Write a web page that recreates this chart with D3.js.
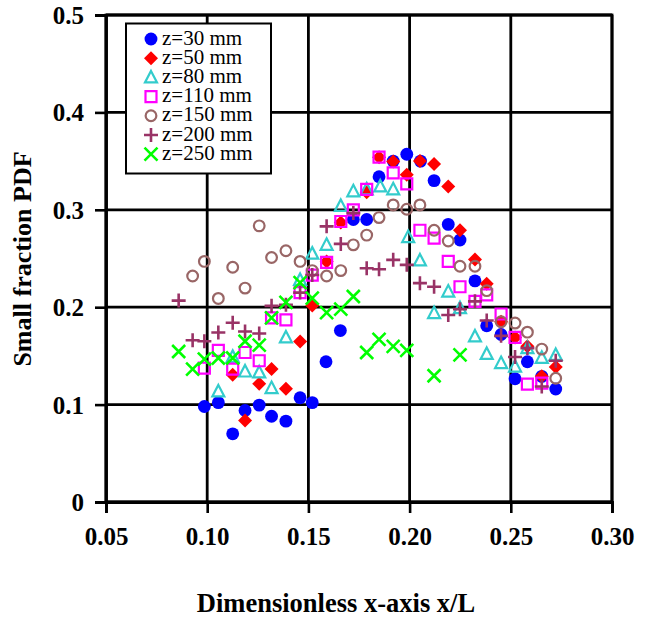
<!DOCTYPE html>
<html><head><meta charset="utf-8">
<script src="https://cdn.jsdelivr.net/npm/d3@7"></script>
<style>body{margin:0;background:#fff}svg{display:block}
svg text{font-family:"Liberation Serif","Times New Roman",Tinos,"DejaVu Serif",serif;}</style>
</head><body>
<svg id="c" width="653" height="621"></svg>
<script>
const seriesNames = ["z=30 mm","z=50 mm","z=80 mm","z=110 mm","z=150 mm","z=200 mm","z=250 mm"];
const xTicks = [0.05,0.10,0.15,0.20,0.25,0.30];
const yTicks = [0,0.1,0.2,0.3,0.4,0.5];

const z30 = [[0.0986,0.098],[0.1055,0.102],[0.1126,0.070],[0.1187,0.094],[0.1257,0.0995],[0.1318,0.088],[0.1389,0.083],[0.1459,0.107],[0.1519,0.102],[0.1587,0.144],[0.1658,0.176],[0.1722,0.290],[0.1788,0.290],[0.1849,0.334],[0.1919,0.350],[0.1986,0.357],[0.2054,0.350],[0.2121,0.330],[0.2191,0.285],[0.2249,0.269],[0.2323,0.227],[0.2381,0.181],[0.2452,0.172],[0.2521,0.1265],[0.2582,0.144],[0.2653,0.129],[0.2722,0.116]];
const z50 = [[0.1126,0.1306],[0.1187,0.0837],[0.1257,0.1214],[0.1318,0.1365],[0.1389,0.1163],[0.1459,0.1648],[0.1519,0.2017],[0.159,0.2469],[0.166,0.2869],[0.1788,0.318],[0.1849,0.354],[0.1919,0.3495],[0.1986,0.336],[0.2051,0.350],[0.2121,0.347],[0.2191,0.324],[0.2249,0.279],[0.2323,0.249],[0.2381,0.224],[0.2452,0.185],[0.2521,0.169],[0.2582,0.160],[0.2653,0.129],[0.2722,0.1385]];
const z80 = [[0.1055,0.1135],[0.1126,0.149],[0.1187,0.134],[0.1257,0.133],[0.1318,0.117],[0.1389,0.169],[0.1459,0.228],[0.1519,0.255],[0.159,0.264],[0.166,0.304],[0.1722,0.319],[0.1788,0.321],[0.1855,0.324],[0.1919,0.321],[0.1993,0.272],[0.2051,0.248],[0.2121,0.194],[0.2191,0.216],[0.2249,0.199],[0.2323,0.170],[0.2381,0.152],[0.2452,0.1426],[0.2521,0.139],[0.2582,0.158],[0.2653,0.148],[0.2722,0.151]];
const z110 = [[0.0986,0.1375],[0.1055,0.1556],[0.1126,0.1365],[0.1187,0.1535],[0.1257,0.145],[0.1318,0.189],[0.1389,0.187],[0.1459,0.215],[0.1519,0.233],[0.159,0.246],[0.166,0.288],[0.1722,0.300],[0.1788,0.321],[0.1849,0.354],[0.1919,0.338],[0.1986,0.3266],[0.2051,0.279],[0.2121,0.271],[0.2191,0.247],[0.2249,0.221],[0.2323,0.206],[0.2381,0.2127],[0.2452,0.193],[0.2521,0.169],[0.2582,0.121],[0.2653,0.122]];
const z150 = [[0.0928,0.232],[0.0986,0.247],[0.1055,0.209],[0.1126,0.241],[0.1187,0.2196],[0.1257,0.2835],[0.1318,0.251],[0.1389,0.258],[0.1459,0.247],[0.1519,0.2376],[0.159,0.232],[0.166,0.2376],[0.1722,0.264],[0.1788,0.274],[0.1849,0.292],[0.1919,0.305],[0.1986,0.3006],[0.2051,0.305],[0.2121,0.279],[0.2191,0.268],[0.2249,0.242],[0.2323,0.242],[0.2381,0.217],[0.2452,0.185],[0.2521,0.1837],[0.2582,0.1744],[0.2653,0.157],[0.2722,0.127]];
const z200 = [[0.0859,0.2068],[0.0928,0.166],[0.0986,0.165],[0.1055,0.174],[0.1126,0.184],[0.1187,0.175],[0.1257,0.173],[0.1318,0.2014],[0.1389,0.2024],[0.1459,0.215],[0.1519,0.233],[0.159,0.283],[0.166,0.265],[0.1722,0.2966],[0.1788,0.240],[0.1849,0.239],[0.1919,0.2486],[0.1986,0.2435],[0.2051,0.2247],[0.2121,0.221],[0.2191,0.192],[0.2249,0.198],[0.2323,0.206],[0.2381,0.1863],[0.2452,0.1706],[0.2521,0.1488],[0.2582,0.158],[0.2653,0.1186],[0.2722,0.145]];
const z250 = [[0.0859,0.1545],[0.0928,0.1365],[0.0986,0.1467],[0.1055,0.1478],[0.1126,0.1478],[0.1187,0.165],[0.1257,0.161],[0.1318,0.189],[0.1389,0.205],[0.1459,0.2253],[0.1519,0.2093],[0.159,0.1945],[0.166,0.198],[0.1722,0.211],[0.1788,0.1535],[0.1849,0.167],[0.1919,0.1597],[0.1986,0.1556],[0.2121,0.1296],[0.2249,0.151]];

const allSeries = [z30,z50,z80,z110,z150,z200,z250];

const styles = [
  {type:"circle", color:"#0000ff", filled:true},
  {type:"diamond", color:"#ff0000", filled:true},
  {type:"triangle", color:"#33cccc", filled:false},
  {type:"square", color:"#ff00ff", filled:false},
  {type:"ocircle", color:"#996666", filled:false},
  {type:"plus", color:"#993366", filled:false},
  {type:"x", color:"#00ff00", filled:false}
];

function markerPath(t){
  switch(t){
    case "circle": return d3.symbol(d3.symbolCircle, 130)();
    case "ocircle": return d3.symbol(d3.symbolCircle, 90)();
    case "diamond": return "M0,-7L7,0L0,7L-7,0Z";
    case "triangle": return "M0,-6.5L6,5L-6,5Z";
    case "square": return "M-5.5,-5.5H5.5V5.5H-5.5Z";
    case "plus": return "M-7,0H7M0,-7V7";
    case "x": return "M-6.5,-6.5L6.5,6.5M6.5,-6.5L-6.5,6.5";
  }
}
function applyStyle(sel, st){
  if(st.filled){ sel.attr("fill", st.color).attr("stroke","none"); }
  else { sel.attr("fill","none").attr("stroke", st.color)
           .attr("stroke-width", (st.type==="plus"||st.type==="x")?2.6:2.2); }
}

const svg = d3.select("#c");
const L=106, R=612, T=15, B=502;
const x = d3.scaleLinear().domain([0.05,0.30]).range([L,R]);
const y = d3.scaleLinear().domain([0,0.5]).range([B,T]);

svg.append("g").selectAll("line").data(xTicks).join("line")
  .attr("x1",d=>x(d)).attr("x2",d=>x(d)).attr("y1",T).attr("y2",B)
  .attr("stroke","#000").attr("stroke-width",2.8);
svg.append("g").selectAll("line").data(yTicks).join("line")
  .attr("x1",L).attr("x2",R).attr("y1",d=>y(d)).attr("y2",d=>y(d))
  .attr("stroke","#000").attr("stroke-width",2.8);

const xAxis = d3.axisBottom(x).tickValues(xTicks).tickSize(11).tickPadding(14).tickFormat(d3.format(".2f"));
const yAxis = d3.axisLeft(y).tickValues(yTicks).tickSize(11).tickPadding(11).tickFormat(d=>d===0?"0":d3.format(".1f")(d));
const gx = svg.append("g").attr("transform",`translate(0,${B})`).call(xAxis);
const gy = svg.append("g").attr("transform",`translate(${L},0)`).call(yAxis);
[gx,gy].forEach(g=>{
  g.attr("font-family",null);
  g.select(".domain").attr("stroke","#000").attr("stroke-width",2.8);
  g.selectAll(".tick line").attr("stroke","#000").attr("stroke-width",2.6);
  g.selectAll("text").attr("font-weight","bold").attr("font-size",25).attr("fill","#000");
});
gy.selectAll("text").attr("dy","0.34em");

svg.append("rect").attr("x",L).attr("y",T).attr("width",R-L).attr("height",B-T)
  .attr("fill","none").attr("stroke","#000").attr("stroke-width",2.8);

allSeries.forEach((data,i)=>{
  const st = styles[i];
  const p = svg.append("g").selectAll("path").data(data).join("path")
    .attr("d", markerPath(st.type))
    .attr("transform", d=>`translate(${x(d[0])},${y(d[1])})`);
  applyStyle(p, st);
});

const lg = svg.append("g");
lg.append("rect").attr("x",126).attr("y",23.5).attr("width",145).attr("height",150)
  .attr("fill","#fff").attr("stroke","#000").attr("stroke-width",2);
seriesNames.forEach((name,i)=>{
  const cy = 39 + i*19.2;
  const m = lg.append("path").attr("d", markerPath(styles[i].type)).attr("transform",`translate(151,${cy})`);
  applyStyle(m, styles[i]);
  lg.append("text").attr("x",162).attr("y",cy+5.5).text(name)
    .attr("font-size",21).attr("fill","#000");
});

svg.append("text").attr("x",336).attr("y",612).attr("text-anchor","middle")
  .attr("font-weight","bold").attr("font-size",26.5)
  .text("Dimensionless x-axis x/L");
svg.append("text").attr("transform","translate(31,259) rotate(-90)").attr("text-anchor","middle")
  .attr("font-weight","bold").attr("font-size",26)
  .text("Small fraction PDF");
</script>
</body></html>
